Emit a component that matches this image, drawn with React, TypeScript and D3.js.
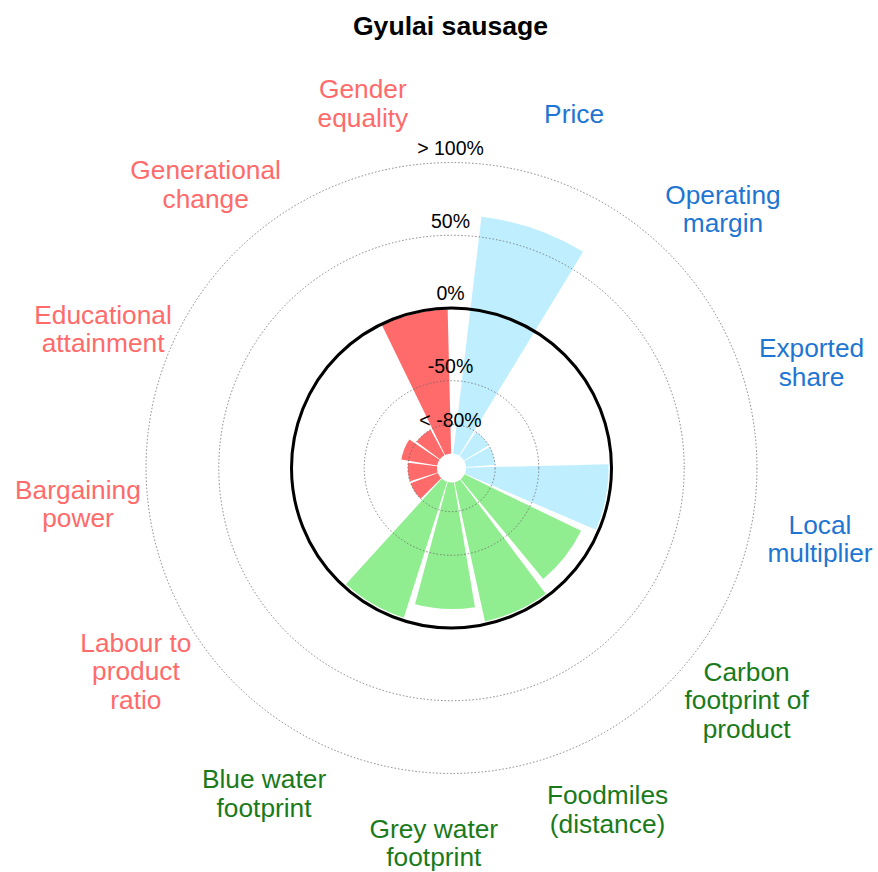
import * as d3 from 'd3';

// indicator order, clockwise from the top
const categories = [
    'Price',
    'Operating margin',
    'Exported share',
    'Local multiplier',
    'Carbon footprint of product',
    'Foodmiles (distance)',
    'Grey water footprint',
    'Blue water footprint',
    'Labour to product ratio',
    'Bargaining power',
    'Educational attainment',
    'Generational change',
    'Gender equality',
];

const labelLines = [
    ['Price'],
    ['Operating', 'margin'],
    ['Exported', 'share'],
    ['Local', 'multiplier'],
    ['Carbon', 'footprint of', 'product'],
    ['Foodmiles', '(distance)'],
    ['Grey water', 'footprint'],
    ['Blue water', 'footprint'],
    ['Labour to', 'product', 'ratio'],
    ['Bargaining', 'power'],
    ['Educational', 'attainment'],
    ['Generational', 'change'],
    ['Gender', 'equality'],
];

const groups = [
    'economic', 'economic', 'economic', 'economic',
    'environmental', 'environmental', 'environmental', 'environmental',
    'social', 'social', 'social', 'social', 'social',
];

// % difference vs. reference (values under -80 are shown as "< -80%")
const values = [64, -85, -85, -2, -11, -2, -13, -2, -85, -85, -75, -85, -1];

const tickValues = [-80, -50, 0, 50, 100];
const tickLabels = ['< -80%', '-50%', '0%', '50%', '> 100%'];

const barColor = { economic: '#BFEFFF', environmental: '#90EE90', social: '#FF6A6A' };
const textColor = { economic: '#1E76D2', environmental: '#1A7A1A', social: '#FF6A6A' };

const FONT = '"Liberation Sans", Arial, Helvetica, sans-serif';

function App() {
    const width = 878;
    const height = 872;
    const cx = 451.5;
    const cy = 468;
    const rot = (2.7 * Math.PI) / 180;

    const r = d3.scaleLinear().domain([-110, 110]).range([0, 320]);
    const angle = d3.scaleBand()
        .domain(categories)
        .range([rot, rot + 2 * Math.PI])
        .paddingInner(0.1)
        .paddingOuter(0.15);
    const bw = angle.bandwidth();
    const arc = d3.arc();

    const labelR = r(148);
    const fs = 26.3;
    const lh = 28.5;
    const tfs = 19.5;

    return (
        <svg
            width={width}
            height={height}
            style={{ position: 'absolute', left: 0, top: 0, background: '#fff', fontFamily: FONT }}
        >
            <text x={450.5} y={35} textAnchor="middle" fontSize={26.6} fontWeight="bold" fill="#000">
                Gyulai sausage
            </text>

            <g transform={`translate(${cx},${cy})`}>
                {categories.map((c, i) => (
                    <path
                        key={c}
                        d={arc({
                            innerRadius: r(-100),
                            outerRadius: r(Math.min(Math.max(values[i], -80), 100)),
                            startAngle: angle(c),
                            endAngle: angle(c) + bw,
                        })}
                        fill={barColor[groups[i]]}
                    />
                ))}

                {tickValues.filter((v) => v !== 0).map((v) => (
                    <circle
                        key={v}
                        r={r(v)}
                        fill="none"
                        stroke="#666"
                        strokeWidth={0.8}
                        strokeDasharray="1.5,2"
                    />
                ))}
                <circle r={r(0)} fill="none" stroke="#000" strokeWidth={3} />

                {tickValues.map((v, i) => {
                    const rr = i === 0 ? r(v) + 4 : r(v + 10);
                    return (
                        <text
                            key={v}
                            x={-1}
                            y={-rr + 0.35 * tfs}
                            textAnchor="middle"
                            fontSize={tfs}
                            fill="#000"
                        >
                            {tickLabels[i]}
                        </text>
                    );
                })}

                {categories.map((c, i) => {
                    const a = angle(c) + bw / 2;
                    const x = labelR * Math.sin(a);
                    const y = -labelR * Math.cos(a);
                    const lines = labelLines[i];
                    return (
                        <text key={c} textAnchor="middle" fontSize={fs} fill={textColor[groups[i]]}>
                            {lines.map((ln, j) => (
                                <tspan key={j} x={x} y={y + (j - (lines.length - 1) / 2) * lh + 0.35 * fs}>
                                    {ln}
                                </tspan>
                            ))}
                        </text>
                    );
                })}
            </g>
        </svg>
    );
}

export default App;
